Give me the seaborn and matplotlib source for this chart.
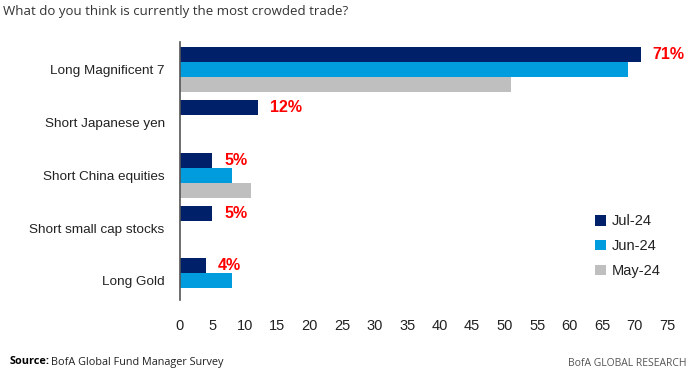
import pandas as pd
import matplotlib
matplotlib.use("Agg")
import matplotlib.pyplot as plt
import seaborn as sns

# Umfragedaten (in %)
trades = ["Long Magnificent 7", "Short Japanese yen", "Short China equities",
          "Short small cap stocks", "Long Gold"]
months = ["Jul-24", "Jun-24", "May-24"]
jul_24 = [71, 12, 5, 5, 4]
jun_24 = [69, None, 8, None, 8]
may_24 = [51, None, 11, None, None]
colors = ["#002169", "#009CDE", "#BFBFBF"]

rows = []
for m, vals in zip(months, [jul_24, jun_24, may_24]):
    for t, v in zip(trades, vals):
        if v is not None:
            rows.append({"trade": t, "month": m, "value": v})
df = pd.DataFrame(rows)

sns.set_style("white")
plt.rcParams["font.family"] = ["Liberation Sans", "DejaVu Sans"]

fig = plt.figure(figsize=(6.97, 3.85), dpi=100)
ax = fig.add_axes([180 / 697, 1 - 300 / 385, (667 - 180) / 697, (300 - 42) / 385])

sns.barplot(data=df, y="trade", x="value", hue="month", order=trades,
            hue_order=months, palette=colors, saturation=1, orient="h",
            width=0.853, edgecolor="none", ax=ax)

ax.set_xlim(0, 75)
ax.set_ylim(4.36, -0.52)
ax.set_xticks(range(0, 80, 5))
ax.set_xlabel("")
ax.set_ylabel("")
ax.tick_params(axis="x", length=0, pad=14, labelsize=10.5, colors="#222222")
ax.tick_params(axis="y", length=0, pad=11, labelsize=9.7, colors="#222222")

for s in ["top", "right", "bottom"]:
    ax.spines[s].set_visible(False)
ax.spines["left"].set_color("#555555")
ax.spines["left"].set_linewidth(1.2)

# Labels nur fuer Jul-24
ax.bar_label(ax.containers[0], labels=[f"{v}%" for v in jul_24], padding=8.5,
             color="#FF0000", fontweight="bold", fontsize=11.5)

leg = ax.legend(loc="upper left", bbox_to_anchor=(588 / 697, 1 - 207 / 385),
                bbox_transform=fig.transFigure, frameon=False, fontsize=10.5,
                handlelength=0.75, handleheight=0.75, handletextpad=0.4,
                labelspacing=0.75, borderpad=0)
for txt in leg.get_texts():
    txt.set_color("#222222")

fig.text(0.004, 1 - 12 / 385, "What do you think is currently the most crowded trade?",
         fontsize=9.5, family="Open Sans", color="#333333", va="center")
fig.text(10 / 697, 1 - 362 / 385, "Source:", fontsize=7.8, family="Open Sans",
         fontweight="bold", color="#000000", va="center")
fig.text(51 / 697, 1 - 362 / 385, "BofA Global Fund Manager Survey", fontsize=7.8,
         family="Open Sans", color="#222222", va="center")
fig.text(686 / 697, 1 - 363 / 385, "BofA GLOBAL RESEARCH", fontsize=7.5,
         family="Open Sans", color="#555555", va="center", ha="right")

fig.savefig("out.png", dpi=100)
